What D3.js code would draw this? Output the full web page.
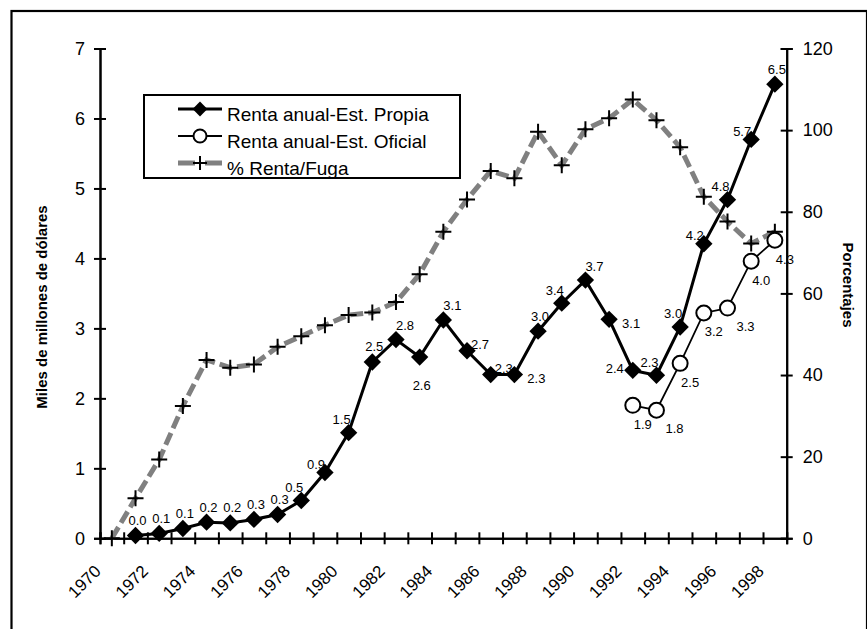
<!DOCTYPE html>
<html><head><meta charset="utf-8">
<script src="https://cdn.jsdelivr.net/npm/d3@7"></script>
<style>body{margin:0;background:#fff}svg{display:block}text{font-family:"Liberation Sans",Arial,sans-serif}</style>
</head><body><svg id="c" width="867" height="629"></svg>
<script>
const years = d3.range(1970, 1999);
const yearLabels = years.filter(y => y % 2 === 0);
// Renta anual - Est. Propia (miles de millones US$), 1971-1998
const propiaYears = d3.range(1971, 1999);
const propia = [0.04,0.07,0.14,0.23,0.22,0.27,0.34,0.54,0.94,1.51,2.52,2.84,2.59,3.12,2.68,2.34,2.34,2.96,3.36,3.69,3.13,2.40,2.33,3.02,4.21,4.84,5.70,6.49];
// Renta anual - Est. Oficial, 1992-1998
const oficialYears = d3.range(1992, 1999);
const oficial = [1.90,1.83,2.50,3.22,3.29,3.96,4.26];
// % Renta/Fuga (right axis), 1970-1998
const fuga = [0,9.8,19.3,32.4,43.7,41.8,42.6,46.9,49.5,52.2,54.7,55.3,57.9,64.7,75.1,83.0,90.0,88.2,99.6,91.4,100.2,102.9,107.5,102.4,95.8,83.7,77.6,72.2,75.1];
const leftTicks = d3.range(0, 8);
const rightTicks = d3.range(0, 121, 20);
const seriesNames = ["Renta anual-Est. Propia","Renta anual-Est. Oficial","% Renta/Fuga"];
// label placement codes
const propiaPos = ["a","a","a","a","a","a","a","al","l","al","a","ar","b","ar","r","r","rr","a","al","ar","rr","ll","al","al","l","al","l","a"];
const oficialPos = ["br","brr","br","br","brr","br","br"];

const svg = d3.select("#c");
const L = 100, R = 786.7, T = 48.5, B = 538.3;
const x = d3.scaleLinear().domain([1969.5, 1998.5]).range([L, R]);
const yL = d3.scaleLinear().domain([0, 7]).range([B, T]);
const yR = d3.scaleLinear().domain([0, 120]).range([B, T]);

// outer border
svg.append("rect").attr("x", 11.5).attr("y", 11).attr("width", 855.5).attr("height", 640)
  .attr("fill", "none").attr("stroke", "#000").attr("stroke-width", 2.2);

function crossAxis(gen, tx, ty) {
  const g1 = svg.append("g").attr("transform", `translate(${tx},${ty})`).call(gen.tickSize(6));
  const g2 = svg.append("g").attr("transform", `translate(${tx},${ty})`).call(gen.tickSize(-6).tickFormat(""));
  [g1, g2].forEach(g => {
    g.selectAll("path.domain").attr("stroke", "#000").attr("stroke-width", 2);
    g.selectAll(".tick line").attr("stroke", "#000").attr("stroke-width", 2);
  });
  return g1;
}
// left axis
const gl = crossAxis(d3.axisLeft(yL).tickValues(leftTicks).tickFormat(d3.format("d")).tickSizeOuter(0).tickPadding(9), L, 0);
gl.selectAll("text").attr("font-size", 18).attr("fill", "#000");
// right axis
const gr = crossAxis(d3.axisRight(yR).tickValues(rightTicks).tickFormat(d3.format("d")).tickSizeOuter(0).tickPadding(10), R, 0);
gr.selectAll("text").attr("font-size", 18).attr("fill", "#000");
// x axis
const bounds = d3.range(1969.5, 1999, 1);
crossAxis(d3.axisBottom(x).tickValues(bounds).tickFormat("").tickSizeOuter(0), 0, B);

// x labels
svg.append("g").selectAll("text").data(yearLabels).join("text")
  .attr("transform", d => `translate(${x(d) - 10},${B + 34}) rotate(-45)`)
  .attr("text-anchor", "end").attr("font-size", 17).text(d => d);

// axis titles
svg.append("text").attr("transform", `translate(47,307) rotate(-90)`).attr("text-anchor", "middle")
  .attr("font-size", 15).attr("font-weight", "bold").text("Miles de millones de dólares");
svg.append("text").attr("transform", `translate(843,285) rotate(90)`).attr("text-anchor", "middle")
  .attr("font-size", 15).attr("font-weight", "bold").text("Porcentajes");

// gray series
const fugaPts = years.map((y, i) => [x(y), yR(fuga[i])]);
svg.append("path").attr("d", d3.line()(fugaPts)).attr("fill", "none").attr("stroke", "#808080")
  .attr("stroke-width", 5).attr("stroke-dasharray", "13,5");
function plus(g, cx, cy, s) {
  g.append("path").attr("d", `M${cx - s},${cy}H${cx + s}M${cx},${cy - s}V${cy + s}`)
    .attr("stroke", "#000").attr("stroke-width", 2).attr("fill", "none");
}
const gp = svg.append("g");
fugaPts.forEach(p => plus(gp, p[0], p[1], 8));

// propia series
const propPts = propiaYears.map((y, i) => [x(y), yL(propia[i])]);
svg.append("path").attr("d", d3.line()(propPts)).attr("fill", "none").attr("stroke", "#000").attr("stroke-width", 3);
svg.append("g").selectAll("path").data(propPts).join("path")
  .attr("transform", d => `translate(${d[0]},${d[1]}) rotate(45)`)
  .attr("d", d3.symbol().type(d3.symbolSquare).size(150)).attr("fill", "#000");

// oficial series
const ofPts = oficialYears.map((y, i) => [x(y), yL(oficial[i])]);
svg.append("path").attr("d", d3.line()(ofPts)).attr("fill", "none").attr("stroke", "#000").attr("stroke-width", 1.8);
svg.append("g").selectAll("circle").data(ofPts).join("circle")
  .attr("cx", d => d[0]).attr("cy", d => d[1]).attr("r", 7.5)
  .attr("fill", "#fff").attr("stroke", "#000").attr("stroke-width", 2);

// data labels
const off = {a:[2,-15], al:[-7,-13], l:[-9,-8], ll:[-18,-2], ar:[9,-14], r:[13,-6], rr:[22,4], b:[2,28],
             br:[10,19], brr:[18,18]};
const fmt = d3.format(".1f");
function labels(pts, vals, pos) {
  svg.append("g").selectAll("text").data(pts).join("text")
    .attr("x", (d, i) => d[0] + off[pos[i]][0]).attr("y", (d, i) => d[1] + off[pos[i]][1])
    .attr("text-anchor", "middle").attr("dominant-baseline", "central")
    .attr("font-size", 13).attr("fill", "#000").text((d, i) => fmt(vals[i]));
}
labels(propPts, propia, propiaPos);
labels(ofPts, oficial, oficialPos);

// legend
const lg = svg.append("g");
lg.append("rect").attr("x", 144).attr("y", 95).attr("width", 316).attr("height", 83)
  .attr("fill", "#fff").attr("stroke", "#000").attr("stroke-width", 2);
const ly = [109, 136, 163], tby = [121, 148, 175];
lg.append("line").attr("x1", 178).attr("x2", 222).attr("y1", ly[0]).attr("y2", ly[0]).attr("stroke", "#000").attr("stroke-width", 3);
lg.append("path").attr("transform", `translate(200,${ly[0]}) rotate(45)`).attr("d", d3.symbol().type(d3.symbolSquare).size(110)).attr("fill", "#000");
lg.append("line").attr("x1", 178).attr("x2", 222).attr("y1", ly[1]).attr("y2", ly[1]).attr("stroke", "#000").attr("stroke-width", 1.8);
lg.append("circle").attr("cx", 200).attr("cy", ly[1]).attr("r", 6.5).attr("fill", "#fff").attr("stroke", "#000").attr("stroke-width", 2);
lg.append("line").attr("x1", 178).attr("x2", 222).attr("y1", ly[2]).attr("y2", ly[2]).attr("stroke", "#808080").attr("stroke-width", 5).attr("stroke-dasharray", "17,10");
plus(lg, 200, ly[2], 7);
lg.selectAll("text.lt").data(seriesNames).join("text").attr("class", "lt")
  .attr("x", 227).attr("y", (d, i) => tby[i]).attr("font-size", 19).text(d => d);
</script></body></html>
